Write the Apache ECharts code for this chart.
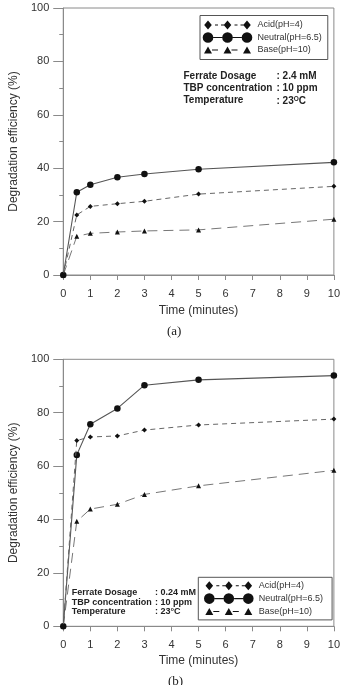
<!DOCTYPE html>
<html>
<head>
<meta charset="utf-8">
<script src="https://cdn.jsdelivr.net/npm/echarts@6/dist/echarts.min.js"></script>
<style>
html,body{margin:0;padding:0;background:#fff;}
#chart{width:343px;height:685px;}
</style>
</head>
<body>
<div id="chart"></div>
<script>
// ---- data ----
const times = [0, 0.5, 1, 2, 3, 5, 10];
const seriesNames = ['Acid(pH=4)', 'Neutral(pH=6.5)', 'Base(pH=10)'];
const acidA = [0, 22.5, 25.7, 26.7, 27.6, 30.3, 33.2];
const neutralA = [0, 31.0, 33.8, 36.6, 37.8, 39.6, 42.2];
const baseA = [0, 14.5, 15.6, 16.1, 16.5, 16.9, 20.9];
const acidB = [0, 69.6, 70.9, 71.3, 73.5, 75.4, 77.6];
const neutralB = [0, 64.2, 75.7, 81.6, 90.3, 92.3, 93.9];
const baseB = [0, 39.3, 43.9, 45.7, 49.4, 52.6, 58.4];
const xMin = 0, xMax = 10, xInterval = 1;
const yMin = 0, yMax = 100, yInterval = 20;
const xTitle = 'Time (minutes)';
const yTitle = 'Degradation efficiency (%)';
const annoLabels = ['Ferrate Dosage', 'TBP concentration', 'Temperature'];
const annoValuesA = [': 2.4 mM', ': 10 ppm', ': 23{sup|O}C'];
const annoValuesB = [': 0.24 mM', ': 10 ppm', ': 23\u00B0C'];
const captions = ['(a)', '(b)'];

// ---- styling helpers ----
const FONT = 'Liberation Sans, Arial, sans-serif';
const pair = (xs, ys) => xs.map((x, i) => [x, ys[i]]);

function diamond(cx){return `M${cx} 1 L${cx+3.8} 5.5 L${cx} 10 L${cx-3.8} 5.5 Z `;}
function circle(cx){return `M${cx-5.3} 5.5 A5.3 5.3 0 1 1 ${cx+5.3} 5.5 A5.3 5.3 0 1 1 ${cx-5.3} 5.5 Z `;}
function tri(cx){return `M${cx} 2 L${cx+4} 9 L${cx-4} 9 Z `;}
function bar(x1,x2,h){return `M${x1} ${5.5-h/2} L${x2} ${5.5-h/2} L${x2} ${5.5+h/2} L${x1} ${5.5+h/2} Z `;}
const corners = 'M0 0 L0.01 0 Z M50 11 L49.99 11 Z ';
const cxs = [5.5, 25, 44.5];
const iconAcid = 'path://' + corners + cxs.map(diamond).join('') +
  bar(12.5,15.5,1) + bar(18.5,21.5,1) + bar(32,35,1) + bar(38,41,1);
const iconNeutral = 'path://' + corners + cxs.map(circle).join('') +
  bar(10.8,19.7,1.2) + bar(30.3,39.2,1.2);
const iconBase = 'path://' + corners + cxs.map(tri).join('') +
  bar(9.5,15.5,1) + bar(29,35,1);
const icons = [iconAcid, iconNeutral, iconBase];

const gridsDef = [
  {left: 57, top: 8, width: 278.6, height: 267},
  {left: 55.5, top: 359.3, width: 281, height: 267}
];
const xNameGaps = [30, 28];

const axisColor = '#8a8a8a';
function xAxis(i){
  return {
    type: 'value', gridIndex: i, min: xMin, max: xMax, interval: xInterval,
    name: xTitle, nameLocation: 'middle', nameGap: xNameGaps[i],
    nameTextStyle: {fontFamily: FONT, fontSize: 12, color: '#333'},
    axisLine: {show: true, onZero: false, lineStyle: {color: axisColor, width: 1}},
    axisTick: {show: true, inside: false, length: 5, lineStyle: {color: axisColor}},
    axisLabel: {fontFamily: FONT, fontSize: 11, color: '#333', margin: 13},
    splitLine: {show: false}
  };
}
function yAxis(i){
  return {
    type: 'value', gridIndex: i, min: yMin, max: yMax, interval: yInterval,
    name: yTitle, nameLocation: 'middle', nameGap: 42, nameRotate: 90,
    nameTextStyle: {fontFamily: FONT, fontSize: 12, color: '#333'},
    axisLine: {show: true, onZero: false, lineStyle: {color: axisColor, width: 1}},
    axisTick: {show: true, inside: false, length: 10, lineStyle: {color: axisColor}},
    minorTick: {show: true, splitNumber: 2, length: 4, lineStyle: {color: axisColor}},
    axisLabel: {fontFamily: FONT, fontSize: 11, color: '#333', margin: 14},
    splitLine: {show: false}
  };
}

const styles = [
  {symbol: 'diamond', symbolSize: 5, lineStyle: {color: '#666', width: 1, type: [5, 4]}},
  {symbol: 'circle', symbolSize: 6.5, lineStyle: {color: '#555', width: 1.1, type: 'solid'}},
  {symbol: 'triangle', symbolSize: 5, lineStyle: {color: '#777', width: 1, type: [10, 6]}}
];
const dataSets = [[acidA, neutralA, baseA], [acidB, neutralB, baseB]];
const series = [];
dataSets.forEach((set, g) => {
  set.forEach((vals, k) => {
    series.push(Object.assign({
      type: 'line', name: seriesNames[k], xAxisIndex: g, yAxisIndex: g,
      data: pair(times, vals), itemStyle: {color: '#111'}, emphasis: {disabled: true},
      animation: false, z: 3 - k
    }, styles[k]));
  });
});

function legend(left, top, padding, gap){
  return {
    orient: 'vertical', left: left, top: top, padding: padding, itemGap: gap,
    itemWidth: 50, itemHeight: 11, selectedMode: false,
    borderColor: '#555', borderWidth: 1,
    textStyle: {fontFamily: FONT, fontSize: 9, color: '#333'},
    data: seriesNames.map((n, k) => ({name: n, icon: icons[k]}))
  };
}

function annotation(x1, x2, ys, values, size){
  const els = [];
  ys.forEach((y, r) => {
    els.push({type: 'text', left: x1, top: y - size * 0.6, style: {
      text: annoLabels[r], font: `bold ${size}px ${FONT}`, fill: '#222'}});
    els.push({type: 'text', left: x2, top: y - size * 0.6, style: {
      text: values[r], font: `bold ${size}px ${FONT}`, fill: '#222',
      rich: {sup: {fontSize: size * 0.65, fontWeight: 'bold', fontFamily: FONT, fill: '#222', padding: [0, 0, size * 0.5, 0]}}}});
  });
  return els;
}

const graphic = []
  .concat(annotation(183.5, 276.5, [77, 89, 101.5], annoValuesA, 10))
  .concat(annotation(71.7, 155, [593.3, 603.3, 612.7], annoValuesB, 9))
  .concat([
    {type: 'text', left: 167, top: 325, style: {text: captions[0], font: '13px Liberation Serif, Times New Roman, serif', fill: '#222'}},
    {type: 'text', left: 168, top: 675, style: {text: captions[1], font: '13px Liberation Serif, Times New Roman, serif', fill: '#222'}}
  ]);

const option = {
  backgroundColor: '#fff',
  animation: false,
  grid: gridsDef.map(g => Object.assign({show: true, borderColor: axisColor, borderWidth: 1, backgroundColor: 'transparent'}, g)),
  xAxis: [xAxis(0), xAxis(1)],
  yAxis: [yAxis(0), yAxis(1)],
  legend: [legend(200, 15.5, [4, 6, 4, 2.5], 1.5), legend(198.3, 577.3, [3, 9, 3, 5.5], 1.8)],
  series: series,
  graphic: graphic
};
const chart = echarts.init(document.getElementById('chart'), null, {renderer: 'canvas'});
chart.setOption(option);
</script>
</body>
</html>
